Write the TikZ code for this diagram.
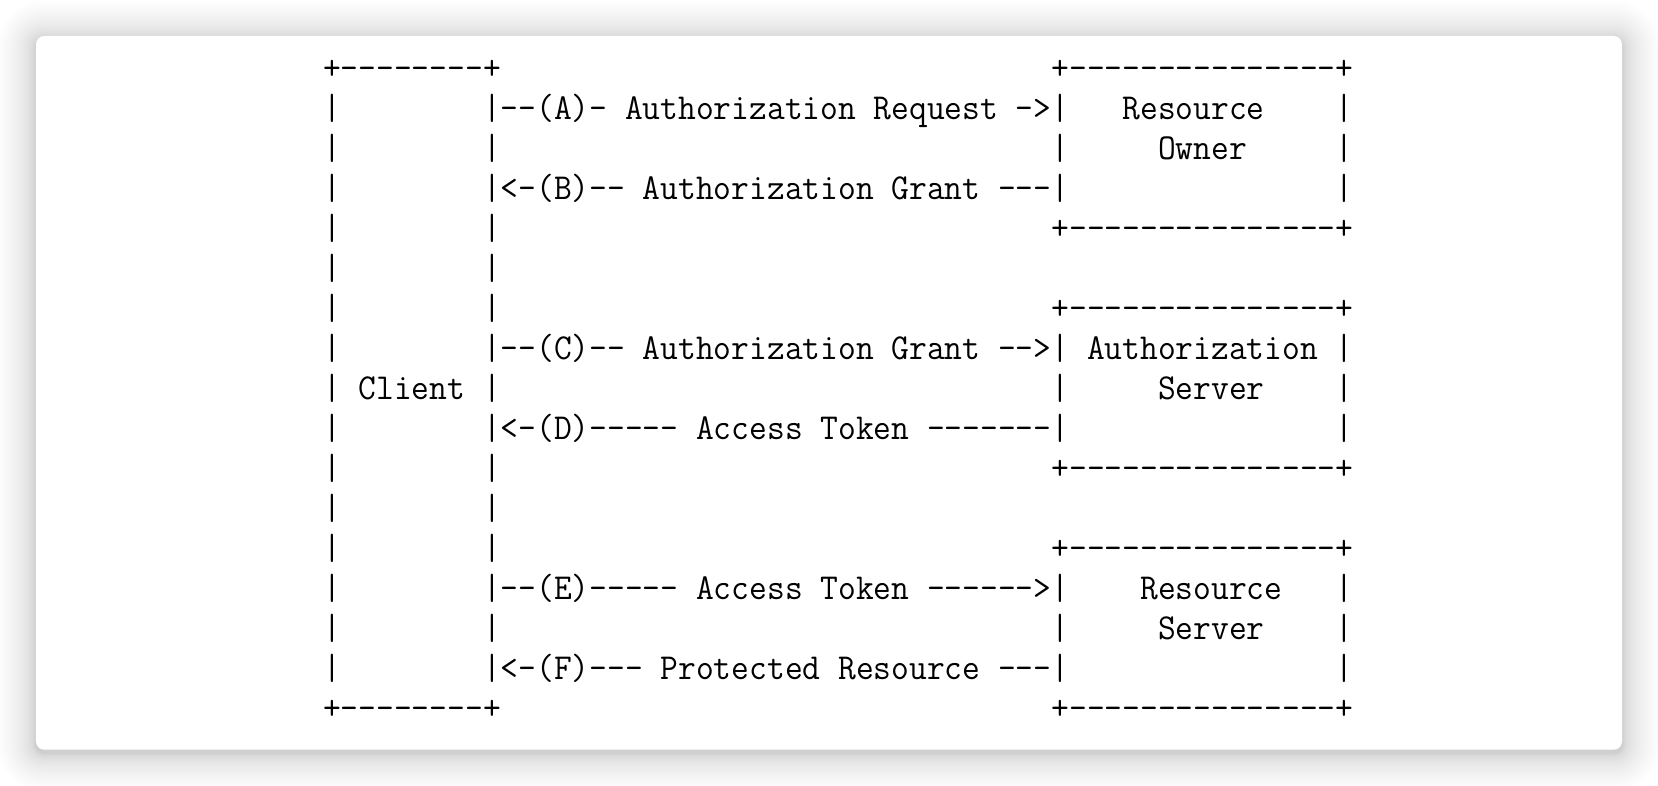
\documentclass[tikz,border=0pt]{standalone}
\usepackage{graphicx}
\newlength\cwid
\newcommand\ascfont{\fontsize{32}{38}\selectfont\ttfamily}
\newcommand\asciirow[4]{\node[asc] (#1) at ({305.6+#3*16.8},{65+37.8125*#2+10.5}) {\scalebox{\sx}[1.08]{\ascfont #4}};}
\tikzset{asc/.style={anchor=base west, inner sep=0pt, outer sep=0pt, text=black}}
\begin{document}
\settowidth\cwid{\ascfont 0}%
\pgfmathsetmacro\sx{16.8/\cwid}%
\begin{tikzpicture}[x=1pt,y=-1pt]
\useasboundingbox (0,0) rectangle (1568,743);
\fill[white] (0,0) rectangle (1568,743);
% shadow
\foreach \i in {1,...,24}{
  \pgfmathsetmacro\d{1+35*(\i/24)^2}
  \fill[black,opacity=0.0075,rounded corners={8+\d}] ({34-\d},{37-\d}) rectangle ({1534+\d},{712+\d});
}
\fill[white,rounded corners=8] (34,34) rectangle (1534,709);
% rows
\asciirow{c0a}{0}{0}{+{-}{-}{-}{-}{-}{-}{-}{-}+}
\asciirow{ro0}{0}{41}{+{-}{-}{-}{-}{-}{-}{-}{-}{-}{-}{-}{-}{-}{-}{-}+}
\asciirow{c1}{1}{0}{|}
\asciirow{mA}{1}{9}{|{-}{-}(A){-} Authorization Request {-}>|}
\asciirow{ro1}{1}{45}{Resource}
\asciirow{ro1r}{1}{57}{|}
\asciirow{c2}{2}{0}{|}
\asciirow{c2r}{2}{9}{|}
\asciirow{ro2l}{2}{41}{|}
\asciirow{ro2}{2}{47}{Owner}
\asciirow{ro2r}{2}{57}{|}
\asciirow{c3}{3}{0}{|}
\asciirow{mB}{3}{9}{|<{-}(B){-}{-} Authorization Grant {-}{-}{-}|}
\asciirow{ro3r}{3}{57}{|}
\asciirow{c4}{4}{0}{|}
\asciirow{c4r}{4}{9}{|}
\asciirow{ro4}{4}{41}{+{-}{-}{-}{-}{-}{-}{-}{-}{-}{-}{-}{-}{-}{-}{-}+}
\asciirow{c5}{5}{0}{|}
\asciirow{c5r}{5}{9}{|}
\asciirow{c6}{6}{0}{|}
\asciirow{c6r}{6}{9}{|}
\asciirow{as6}{6}{41}{+{-}{-}{-}{-}{-}{-}{-}{-}{-}{-}{-}{-}{-}{-}{-}+}
\asciirow{c7}{7}{0}{|}
\asciirow{mC}{7}{9}{|{-}{-}(C){-}{-} Authorization Grant {-}{-}>|}
\asciirow{as7}{7}{43}{Authorization}
\asciirow{as7r}{7}{57}{|}
\asciirow{client}{8}{0}{| Client |}
\asciirow{as8l}{8}{41}{|}
\asciirow{as8}{8}{47}{Server}
\asciirow{as8r}{8}{57}{|}
\asciirow{c9}{9}{0}{|}
\asciirow{mD}{9}{9}{|<{-}(D){-}{-}{-}{-}{-} Access Token {-}{-}{-}{-}{-}{-}{-}|}
\asciirow{as9r}{9}{57}{|}
\asciirow{c10}{10}{0}{|}
\asciirow{c10r}{10}{9}{|}
\asciirow{as10}{10}{41}{+{-}{-}{-}{-}{-}{-}{-}{-}{-}{-}{-}{-}{-}{-}{-}+}
\asciirow{c11}{11}{0}{|}
\asciirow{c11r}{11}{9}{|}
\asciirow{c12}{12}{0}{|}
\asciirow{c12r}{12}{9}{|}
\asciirow{rs12}{12}{41}{+{-}{-}{-}{-}{-}{-}{-}{-}{-}{-}{-}{-}{-}{-}{-}+}
\asciirow{c13}{13}{0}{|}
\asciirow{mE}{13}{9}{|{-}{-}(E){-}{-}{-}{-}{-} Access Token {-}{-}{-}{-}{-}{-}>|}
\asciirow{rs13}{13}{46}{Resource}
\asciirow{rs13r}{13}{57}{|}
\asciirow{c14}{14}{0}{|}
\asciirow{c14r}{14}{9}{|}
\asciirow{rs14l}{14}{41}{|}
\asciirow{rs14}{14}{47}{Server}
\asciirow{rs14r}{14}{57}{|}
\asciirow{c15}{15}{0}{|}
\asciirow{mF}{15}{9}{|<{-}(F){-}{-}{-} Protected Resource {-}{-}{-}|}
\asciirow{rs15r}{15}{57}{|}
\asciirow{c16}{16}{0}{+{-}{-}{-}{-}{-}{-}{-}{-}+}
\asciirow{rs16}{16}{41}{+{-}{-}{-}{-}{-}{-}{-}{-}{-}{-}{-}{-}{-}{-}{-}+}
\end{tikzpicture}
\end{document}
